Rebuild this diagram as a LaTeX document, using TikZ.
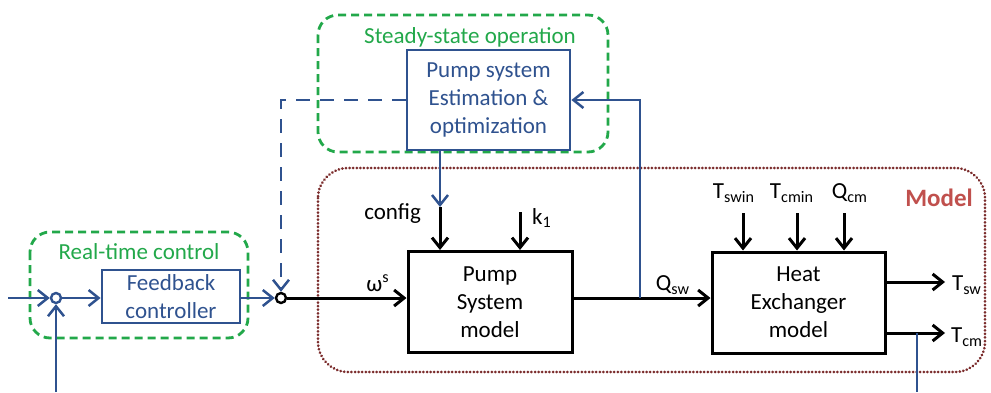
\documentclass[tikz,border=0pt]{standalone}
\usepackage{fontspec}
\setmainfont{Carlito}
\usetikzlibrary{arrows.meta}
\definecolor{ctrlblue}{HTML}{2F528F}
\definecolor{ctrlgreen}{HTML}{22A84A}
\definecolor{modelbrown}{HTML}{7B2C2C}
\definecolor{modelred}{HTML}{C0504D}
\begin{document}
\begin{tikzpicture}
   [x=0.5pt,y=-0.5pt,
    >={Straight Barb[length=5pt,width=8pt]},
    txt/.style={font=\fontsize{11.5}{14}\selectfont},
    blackbox/.style={txt,draw,line width=1.5pt,align=center,inner sep=0pt},
    bluebox/.style={txt,draw=ctrlblue,text=ctrlblue,line width=1.4pt,align=center,inner sep=0pt},
    blackline/.style={line width=1.5pt},
    blueline/.style={draw=ctrlblue,line width=1.25pt},
    greenframe/.style={draw=ctrlgreen,line width=1.4pt,dash pattern=on 4pt off 2.5pt,rounded corners=10pt},
    modelframe/.style={draw=modelbrown,line width=1.4pt,dash pattern=on 0.1pt off 1.7pt,line cap=round,rounded corners=15pt},
    sumdot/.style={circle,draw,line width=1.2pt,fill=white,inner sep=0pt,minimum size=5pt}]
   \useasboundingbox (0,0) rectangle (991,392);

   \draw[greenframe] (318,15) rectangle (608,152);
   \draw[greenframe] (30,232) rectangle (248,338);
   \draw[modelframe] (318,168) rectangle (985,372);

   \node[txt,text=ctrlgreen] (steadylbl) at (470,37) {Steady-state operation};
   \node[txt,text=ctrlgreen] (rtlbl) at (139,252) {Real-time control};
   \node[txt,text=modelred,font=\fontsize{12.5}{14}\selectfont\bfseries] (modellbl) at (939,198) {Model};

   \node[bluebox,minimum width=81.5pt,minimum height=50pt,fill=white] (est) at (488.5,100) {Pump system\\Estimation \&\\optimization};
   \node[bluebox,minimum width=69pt,minimum height=26.5pt] (fb) at (171,296.5) {Feedback\\controller};
   \node[blackbox,minimum width=82pt,minimum height=50.5pt] (pump) at (490,302) {Pump\\System\\model};
   \node[blackbox,minimum width=86.5pt,minimum height=50.5pt] (hx) at (798.5,302.5) {Heat\\Exchanger\\model};

   \node[sumdot,draw=ctrlblue] (s1) at (56,298) {};
   \node[sumdot] (s2) at (281,298) {};

   \coordinate (in) at (8,298);
   \coordinate (cfg) at (440,207);
   \coordinate (k1) at (520,212);
   \coordinate (tap) at (640,298);
   \coordinate (tswin) at (743,213);
   \coordinate (tcmin) at (797,213);
   \coordinate (qcm) at (844,213);
   \coordinate (tsw) at (945,282);
   \coordinate (tcm) at (945,333);
   \coordinate (fbk) at (917,333);
   \coordinate (botr) at (917,392);
   \coordinate (botl) at (56,392);

   \node[txt,anchor=east] (cfglbl) at (428,214) {config};
   \node[txt] (wlbl) at (378,283) {ω\textsuperscript{s}};
   \node[txt] (k1lbl) at (542,218) {k\textsubscript{1}};
   \node[txt] (qswlbl) at (673,285) {Q\textsubscript{sw}};
   \node[txt] (tswinlbl) at (734,193) {T\textsubscript{swin}};
   \node[txt] (tcminlbl) at (792,193) {T\textsubscript{cmin}};
   \node[txt] (qcmlbl) at (850,193) {Q\textsubscript{cm}};
   \node[txt] (tswlbl) at (967,285) {T\textsubscript{sw}};
   \node[txt] (tcmlbl) at (967,337) {T\textsubscript{cm}};

   \draw[blueline,->] (in) -- (s1);
   \draw[blueline,->] (botl) -- (s1);
   \draw[blueline,->] (s1) -- (fb.west |- s1);
   \draw[blueline,->] (fb.east |- s2) -- (s2);
   \draw[blueline,->,dash pattern=on 7pt off 5pt] (est.west) -| (s2);
   \draw[blackline,->] (s2) -- (pump.west |- s2);
   \draw[blueline,->] (est.south -| cfg) -- (cfg);
   \draw[blackline,->] (cfg) -- (cfg |- pump.north);
   \draw[blackline,->] (k1) -- (k1 |- pump.north);
   \draw[blackline] (pump.east |- tap) -- (tap);
   \draw[blackline,->] (tap) -- (tap -| hx.west);
   \draw[blueline,->] (tap) |- (est.east);
   \draw[blackline,->] (tswin) -- (tswin |- hx.north);
   \draw[blackline,->] (tcmin) -- (tcmin |- hx.north);
   \draw[blackline,->] (qcm) -- (qcm |- hx.north);
   \draw[blackline,->] (hx.east |- tsw) -- (tsw);
   \draw[blackline,->] (hx.east |- tcm) -- (tcm);
   \draw[blueline] (fbk) -- (botr);
\end{tikzpicture}
\end{document}
